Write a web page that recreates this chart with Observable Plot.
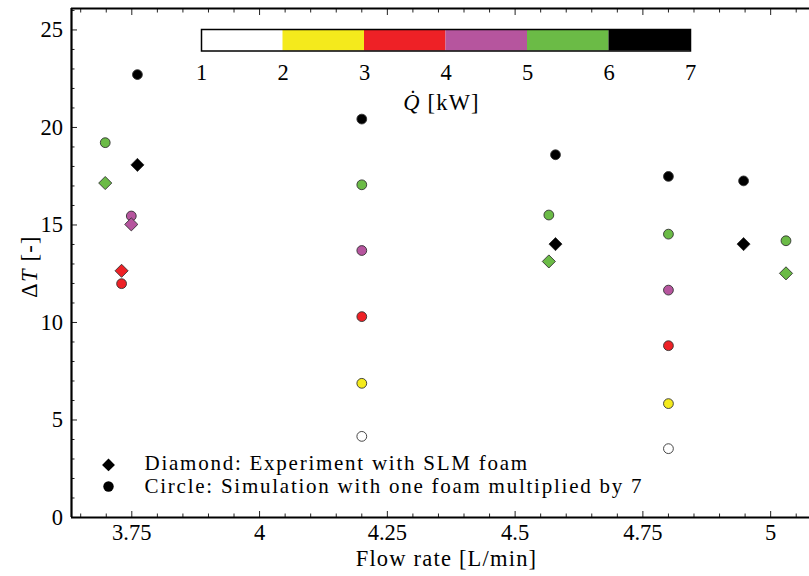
<!DOCTYPE html>
<html><head><meta charset="utf-8">
<script src="https://cdn.jsdelivr.net/npm/d3@7"></script>
<script src="https://cdn.jsdelivr.net/npm/@observablehq/plot@0.6"></script>
<style>
html,body{margin:0;padding:0;background:#fff;}
#wrap{position:relative;width:809px;height:576px;overflow:hidden;}
#wrap svg{position:absolute;left:0;top:0;}
</style></head><body><div id="wrap"></div>
<script>
// ---- data ----
// Experiment with SLM foam (diamonds)
const expFlow = [3.698, 3.761, 3.749, 3.730, 4.579, 4.566, 4.947, 5.030];
const expDT   = [17.15, 18.08, 15.03, 12.65, 14.02, 13.13, 14.02, 12.52];
const expQ    = [5.5,   6.5,   4.5,   3.5,   6.5,   5.5,   6.5,   5.5];
// Simulation with one foam multiplied by 7 (circles)
const simFlow = [3.698, 3.761, 3.749, 3.730, 4.2, 4.2, 4.2, 4.2, 4.2, 4.2, 4.579, 4.566, 4.8, 4.8, 4.8, 4.8, 4.8, 4.8, 4.947, 5.030];
const simDT   = [19.22, 22.71, 15.46, 11.99, 20.43, 17.06, 13.69, 10.30, 6.88, 4.16, 18.60, 15.51, 17.49, 14.53, 11.66, 8.81, 5.84, 3.53, 17.26, 14.19];
const simQ    = [5.5,   6.5,   4.5,   3.5,   6.5,   5.5,   4.5,   3.5,   2.5,  1.5,  6.5,   5.5,   6.5,   5.5,   4.5,   3.5,  2.5,  1.5,  6.5,   5.5];
// colour bar
const qEdges = [1, 2, 3, 4, 5, 6, 7];
const qThresholds = [2, 3, 4, 5, 6];
const qColors = ["#ffffff", "#f4ea1c", "#ee2126", "#b6559e", "#6bbb46", "#000000"];
// axes
const xDomain = [3.632, 5.076];
const yDomain = [0, 26.1];
const xMajor = [3.75, 4, 4.25, 4.5, 4.75, 5];
const xMinor = [3.65, 3.7, 3.8, 3.85, 3.9, 3.95, 4.05, 4.1, 4.15, 4.2, 4.3, 4.35, 4.4, 4.45, 4.55, 4.6, 4.65, 4.7, 4.8, 4.85, 4.9, 4.95, 5.05];
const yMajor = [0, 5, 10, 15, 20, 25];
const yMinor = [1, 2, 3, 4, 6, 7, 8, 9, 11, 12, 13, 14, 16, 17, 18, 19, 21, 22, 23, 24, 26];
const xLabel = "Flow rate [L/min]";
const yLabel = "ΔT [-]";
const qLabel = "Q̇ [kW]";
const legendLabels = ["Diamond: Experiment with SLM foam", "Circle: Simulation with one foam multiplied by 7"];

// ---- build ----
const FONT = "'Liberation Serif', 'Times New Roman', serif";
const FS = 22.5;
const LFS = 21;
const experiments = expFlow.map((x, i) => ({x, dT: expDT[i], q: expQ[i]}));
const simulations = simFlow.map((x, i) => ({x, dT: simDT[i], q: simQ[i]}));
const qBins = qEdges.slice(0, -1).map((lo, i) => ({lo, hi: qEdges[i + 1]}));
const colorScale = {type: "threshold", domain: qThresholds, range: qColors};
const fmt = d => String(d);
const blank = () => "";
const tickOpts = {label: null, tickFormat: blank, stroke: "#222", strokeWidth: 1};

const main = Plot.plot({
  width: 809, height: 576,
  marginLeft: 71, marginRight: 0, marginTop: 8, marginBottom: 59,
  style: {fontFamily: FONT, fontSize: FS + "px", background: "white", color: "black"},
  x: {domain: xDomain},
  y: {domain: yDomain},
  color: colorScale,
  marks: [
    Plot.axisX({ticks: xMajor, tickSize: 0, tickPadding: 7, tickFormat: fmt, label: null}),
    Plot.axisX({ticks: xMajor, tickSize: -6, ...tickOpts}),
    Plot.axisX({ticks: xMinor, tickSize: -3.5, ...tickOpts}),
    Plot.axisX({anchor: "top", ticks: xMajor, tickSize: -6, ...tickOpts}),
    Plot.axisX({anchor: "top", ticks: xMinor, tickSize: -3.5, ...tickOpts}),
    Plot.axisY({ticks: yMajor, tickSize: 0, tickPadding: 8.5, tickFormat: fmt, label: null}),
    Plot.axisY({ticks: yMajor, tickSize: -6, ...tickOpts}),
    Plot.axisY({ticks: yMinor, tickSize: -3.5, ...tickOpts}),
    Plot.ruleY([yDomain[0]], {stroke: "black", strokeWidth: 2.2}),
    Plot.ruleY([yDomain[1]], {stroke: "black", strokeWidth: 2.2}),
    Plot.ruleX([xDomain[0]], {stroke: "black", strokeWidth: 2.2}),
    Plot.dot(simulations, {x: "x", y: "dT", fill: "q", r: 4.9, symbol: "circle", stroke: "#333", strokeWidth: 0.9}),
    Plot.dot(experiments, {x: "x", y: "dT", fill: "q", r: 5.9, symbol: "diamond2", stroke: "#333", strokeWidth: 0.9}),
    // legend
    Plot.dot([legendLabels[0]], {frameAnchor: "bottom-left", dx: 37, dy: -52.6, symbol: "diamond2", r: 5.8, fill: "black"}),
    Plot.dot([legendLabels[1]], {frameAnchor: "bottom-left", dx: 37, dy: -31.0, symbol: "circle", r: 5.2, fill: "black"}),
    Plot.text([legendLabels[0]], {frameAnchor: "bottom-left", dx: 73, dy: -54.5, fontSize: LFS, text: d => d, textAnchor: "start", lineAnchor: "middle", fill: "black"}),
    Plot.text([legendLabels[1]], {frameAnchor: "bottom-left", dx: 73, dy: -31.1, fontSize: LFS, text: d => d, textAnchor: "start", lineAnchor: "middle", fill: "black"}),
    // axis titles
    Plot.text([xLabel], {frameAnchor: "bottom", dx: 6, dy: 41.5, text: d => d, textAnchor: "middle", lineAnchor: "middle", fill: "black"}),
    Plot.text([yLabel], {frameAnchor: "left", dx: -42, dy: 3.5, rotate: -90, text: d => d, textAnchor: "middle", lineAnchor: "middle", fill: "black"})
  ]
});

const bar = Plot.plot({
  width: 809, height: 130,
  marginLeft: 201, marginRight: 119, marginTop: 29, marginBottom: 79.5,
  style: {fontFamily: FONT, fontSize: FS + "px", background: "transparent", color: "black"},
  x: {domain: [qEdges[0], qEdges[qEdges.length - 1]]},
  y: {domain: [0, 1], axis: null},
  color: colorScale,
  marks: [
    Plot.rect(qBins, {x1: "lo", x2: "hi", y1: 0, y2: 1, fill: "lo"}),
    Plot.frame({stroke: "black", strokeWidth: 1.5}),
    Plot.axisX({ticks: qEdges, tickSize: 0, tickPadding: 12.6, tickFormat: fmt, label: null}),
    Plot.text([qLabel], {frameAnchor: "bottom", dx: -4.5, dy: 51.5, text: d => d, textAnchor: "middle", lineAnchor: "middle", fill: "black"})
  ]
});

const wrap = document.getElementById("wrap");
wrap.appendChild(main);
wrap.appendChild(bar);
bar.style.pointerEvents = "none";

// wider letter spacing to mimic Computer Modern metrics
const wordy = new Set([xLabel, yLabel, qLabel]);
d3.selectAll([main, bar]).selectAll("text").filter(function() { return wordy.has(this.textContent); })
  .style("letter-spacing", "1.2px");
const legendSet = new Set(legendLabels);
d3.select(main).selectAll("text").filter(function() { return legendSet.has(this.textContent); })
  .style("letter-spacing", "1.75px");

// italic math symbols
d3.select(main).selectAll("text").filter(function() { return this.textContent === yLabel; }).each(function() {
  const t = d3.select(this); t.text("");
  t.append("tspan").text("Δ");
  t.append("tspan").attr("font-style", "italic").text("T");
  t.append("tspan").text(" [-]");
});
d3.select(bar).selectAll("text").filter(function() { return this.textContent === qLabel; }).each(function() {
  const t = d3.select(this); t.text("");
  t.append("tspan").attr("font-style", "italic").text("Q̇");
  t.append("tspan").text(" [kW]");
});
</script></body></html>
